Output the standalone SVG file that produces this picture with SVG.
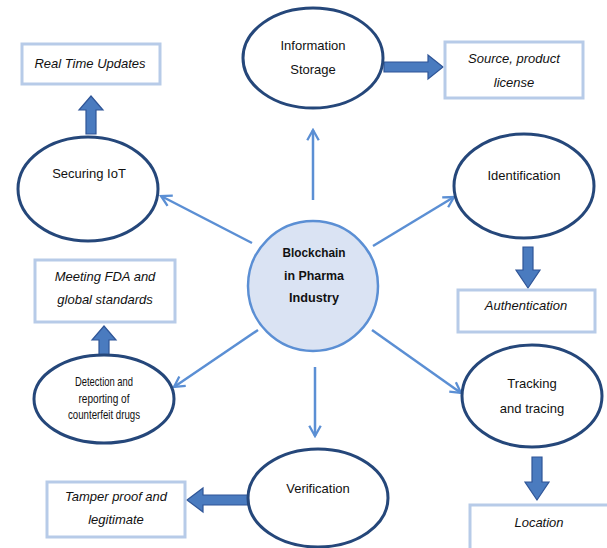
<svg xmlns="http://www.w3.org/2000/svg" width="607" height="548" viewBox="0 0 607 548">
<style>
.node ellipse{fill:#fff;stroke:#25477a;stroke-width:3}
.box rect{fill:#fff;stroke:#b7cbe8;stroke-width:3}
text{font-family:"Liberation Sans",Arial,sans-serif;font-size:13px;fill:#111;text-anchor:middle}
.it{font-style:italic}
.thin line{stroke:#5b8fd4;stroke-width:2.5;fill:none}
.thick polygon{fill:#4a7bbf;stroke:#2f5597;stroke-width:1.2}
</style>
<defs>
<marker id="ah" viewBox="0 0 12 12" refX="10" refY="6" markerWidth="5.5" markerHeight="5.5" orient="auto" markerUnits="strokeWidth">
<path d="M1,1 L10,6 L1,11" fill="none" stroke="#5b8fd4" stroke-width="2"/>
</marker>
</defs>
<rect width="607" height="548" fill="#fff"/>
<g id="connectors">
<g class="thin">
<line x1="313" y1="200" x2="313" y2="130" marker-end="url(#ah)"/>
<line x1="252" y1="243" x2="161" y2="196" marker-end="url(#ah)"/>
<line x1="373" y1="246" x2="454" y2="197" marker-end="url(#ah)"/>
<line x1="258" y1="330" x2="174" y2="387" marker-end="url(#ah)"/>
<line x1="315" y1="367" x2="315" y2="436" marker-end="url(#ah)"/>
<line x1="372" y1="330" x2="461" y2="393" marker-end="url(#ah)"/>
</g>
<g class="thick">
<polygon points="384,62 428,62 428,55 443,67 428,79 428,72 384,72"/>
<polygon points="86,134 86,110 79,110 91,96 103,110 96,110 96,134"/>
<polygon points="523,247 523,270 516,270 528,288 540,270 533,270 533,247"/>
<polygon points="99,355 99,340 92,340 104,326 116,340 109,340 109,355"/>
<polygon points="532,457 532,482 525,482 537,500 549,482 542,482 542,457"/>
<polygon points="248,495 203,495 203,488 187,500 203,512 203,505 248,505"/>
</g>
</g>
<g id="center">
<circle cx="313" cy="286" r="65" fill="#dae3f3" stroke="#5b8fd4" stroke-width="2.5"/>
<text x="314" y="257" font-weight="bold" textLength="63" lengthAdjust="spacingAndGlyphs">Blockchain</text>
<text x="314" y="280" font-weight="bold" textLength="60" lengthAdjust="spacingAndGlyphs">in Pharma</text>
<text x="314" y="302" font-weight="bold" textLength="50" lengthAdjust="spacingAndGlyphs">Industry</text>
</g>
<g id="information-storage" class="node">
<ellipse cx="313" cy="58" rx="70" ry="50"/>
<text x="313" y="50">Information</text>
<text x="313" y="74">Storage</text>
</g>
<g id="source-license" class="box">
<rect x="445" y="42" width="138" height="56"/>
<text class="it" x="514" y="63">Source, product</text>
<text class="it" x="514" y="87">license</text>
</g>
<g id="real-time-updates" class="box">
<rect x="22" y="44" width="138" height="40"/>
<text class="it" x="90" y="68">Real Time Updates</text>
</g>
<g id="securing-iot" class="node">
<ellipse cx="88" cy="189" rx="70" ry="52"/>
<text x="89" y="178">Securing IoT</text>
</g>
<g id="identification" class="node">
<ellipse cx="524" cy="186" rx="70" ry="52"/>
<text x="524" y="180">Identification</text>
</g>
<g id="authentication" class="box">
<rect x="458" y="290" width="137" height="42"/>
<text class="it" x="526" y="310">Authentication</text>
</g>
<g id="meeting-fda" class="box">
<rect x="35" y="260" width="140" height="62"/>
<text class="it" x="105" y="281">Meeting FDA and</text>
<text class="it" x="105" y="304">global standards</text>
</g>
<g id="detection" class="node">
<ellipse cx="104" cy="399" rx="70" ry="44"/>
<text x="104" y="386" font-size="9.5" textLength="58" lengthAdjust="spacingAndGlyphs">Detection and</text>
<text x="104" y="403" font-size="9.5" textLength="51" lengthAdjust="spacingAndGlyphs">reporting of</text>
<text x="104" y="419" font-size="9.5" textLength="72" lengthAdjust="spacingAndGlyphs">counterfeit drugs</text>
</g>
<g id="tracking" class="node">
<ellipse cx="532" cy="396" rx="70" ry="51"/>
<text x="532" y="388">Tracking</text>
<text x="532" y="413">and tracing</text>
</g>
<g id="location" class="box">
<rect x="470" y="505" width="140" height="45"/>
<text class="it" x="539" y="527">Location</text>
</g>
<g id="verification" class="node">
<ellipse cx="318" cy="498" rx="70" ry="49"/>
<text x="318" y="493">Verification</text>
</g>
<g id="tamper-proof" class="box">
<rect x="47" y="482" width="138" height="55"/>
<text class="it" x="116" y="501">Tamper proof and</text>
<text class="it" x="116" y="524">legitimate</text>
</g>
</svg>
